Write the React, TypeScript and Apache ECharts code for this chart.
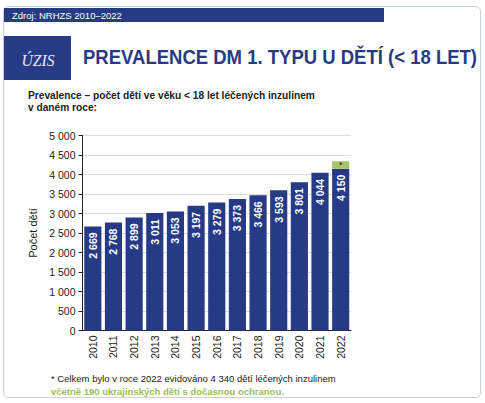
import React, { useEffect, useRef } from "react";
import * as echarts from "echarts";

const years = ["2010", "2011", "2012", "2013", "2014", "2015", "2016", "2017", "2018", "2019", "2020", "2021", "2022"];
const children = [2669, 2768, 2899, 3011, 3053, 3197, 3279, 3373, 3466, 3593, 3801, 4044, 4150];
const ukrainian = ["-", "-", "-", "-", "-", "-", "-", "-", "-", "-", "-", "-", 190];
const yTicks = { min: 0, max: 5000, interval: 500 };

const sourceText = "Zdroj: NRHZS 2010–2022";
const titleText = "PREVALENCE DM 1. TYPU U DĚTÍ (< 18 LET)";
const subtitle1 = "Prevalence – počet dětí ve věku < 18 let léčených inzulinem";
const subtitle2 = "v daném roce:";
const note1 = "* Celkem bylo v roce 2022 evidováno 4 340 dětí léčených inzulinem";
const note2 = "včetně 190 ukrajinských dětí s dočasnou ochranou.";
const yName = "Počet dětí";

const FONT = 'Arial, "Liberation Sans", sans-serif';
const NAVY = "#263a85";
const GREEN = "#a6c565";

const fmt = (v: number) => String(v).replace(/\B(?=(\d{3})+(?!\d))/g, " ");

export default function App() {
  const ref = useRef<HTMLDivElement>(null);
  useEffect(() => {
    document.body.style.margin = "0";
    const chart = echarts.init(ref.current!, null, { renderer: "svg" });
    chart.setOption({
      animation: false,
      textStyle: { fontFamily: FONT },
      graphic: [
        { type: "rect", shape: { x: 4, y: 8, width: 380, height: 14 }, style: { fill: NAVY } },
        { type: "text", x: 12, y: 15.5, style: { text: sourceText, fill: "#fff", font: `9.5px ${FONT}`, verticalAlign: "middle" } },
        { type: "rect", shape: { x: 4, y: 36, width: 67, height: 44 }, style: { fill: NAVY } },
        { type: "text", x: 38, y: 60, scaleX: 0.92, originX: 0, style: { text: "ÚZIS", fill: "#e8ecf5", font: `italic 17px "Liberation Serif", "DejaVu Serif", serif`, align: "center", verticalAlign: "middle" } },
        { type: "text", x: 83, y: 57.5, scaleX: 0.95, style: { text: titleText, fill: NAVY, font: `bold 19.5px ${FONT}`, verticalAlign: "middle" } },
        { type: "text", x: 28, y: 95, scaleX: 0.97, style: { text: subtitle1, fill: "#222", font: `bold 10.5px ${FONT}`, verticalAlign: "middle" } },
        { type: "text", x: 28, y: 107.5, scaleX: 0.97, style: { text: subtitle2, fill: "#222", font: `bold 10.5px ${FONT}`, verticalAlign: "middle" } },
        { type: "text", x: 51, y: 378, style: { text: note1, fill: "#222", font: `9.5px ${FONT}`, verticalAlign: "middle" } },
        { type: "text", x: 51, y: 391, style: { text: note2, fill: "#9cbf57", font: `bold 9.5px ${FONT}`, verticalAlign: "middle" } },
      ],
      grid: { left: 82.5, top: 135.5, width: 268.5, height: 195, containLabel: false },
      xAxis: {
        type: "category",
        data: years,
        axisLine: { lineStyle: { color: "#222", width: 1 } },
        axisTick: { length: 4, lineStyle: { color: "#222" } },
        axisLabel: { rotate: 90, fontSize: 10.5, color: "#222", margin: 5, fontFamily: FONT },
      },
      yAxis: {
        type: "value",
        ...yTicks,
        name: yName,
        nameLocation: "middle",
        nameGap: 40,
        nameTextStyle: { fontSize: 11, color: "#222", fontFamily: FONT },
        axisLine: { show: true, lineStyle: { color: "#222", width: 1 } },
        axisTick: { show: true, length: 4, lineStyle: { color: "#222" } },
        axisLabel: { fontSize: 10.5, color: "#222", margin: 7, formatter: (v: number) => fmt(v), fontFamily: FONT },
        splitLine: { lineStyle: { color: "#dcdcdc", width: 1 } },
      },
      series: [
        {
          type: "bar",
          stack: "total",
          data: children,
          barCategoryGap: "17%",
          itemStyle: { color: NAVY },
          label: {
            show: true,
            position: "insideTop",
            rotate: 90,
            align: "right",
            verticalAlign: "middle",
            distance: 6,
            color: "#fff",
            fontWeight: "bold",
            fontSize: 10.5,
            fontFamily: FONT,
            formatter: (p: any) => fmt(p.value),
          },
        },
        {
          type: "bar",
          stack: "total",
          data: ukrainian,
          barCategoryGap: "17%",
          itemStyle: { color: GREEN },
          label: { show: true, position: "inside", color: "#222", fontSize: 9, formatter: "*" },
        },
      ],
    });
    return () => chart.dispose();
  }, []);
  return (
    <div style={{ position: "relative", width: 485, height: 403 }}>
      <div
        style={{
          position: "absolute",
          left: 3,
          top: 6,
          width: 476,
          height: 390,
          border: "1.5px solid #c8d2de",
          borderRadius: 5,
          background: "#fff",
        }}
      />
      <div ref={ref} style={{ position: "absolute", left: 0, top: 0, width: 485, height: 403 }} />
    </div>
  );
}
